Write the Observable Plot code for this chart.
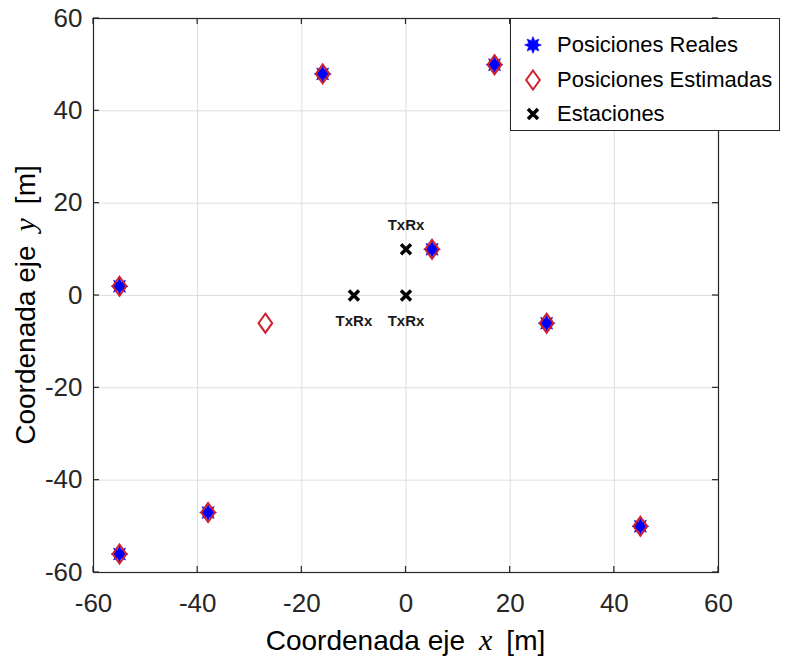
<!DOCTYPE html>
<html>
<head>
<meta charset="utf-8">
<script src="https://cdn.jsdelivr.net/npm/d3@7"></script>
<script src="https://cdn.jsdelivr.net/npm/@observablehq/plot@0.6"></script>
<style>
  body { margin: 0; background: #fff; }
  #chart { position: relative; width: 807px; height: 667px; font-family: "Liberation Sans", Arial, sans-serif; }
  #legend { position: absolute; left: 510px; top: 18px; width: 270px; height: 113px; box-sizing: border-box;
            border: 1px solid #262626; background: #fff; }
  .entry { position: absolute; left: 0; height: 30px; display: flex; align-items: center; font-size: 22px; color: #000; }
  .entry svg { width: 30px; height: 30px; margin-left: 7px; margin-right: 9px; }
</style>
</head>
<body>
<div id="chart"></div>
<script>
// Axis ticks
const xTicks = [-60, -40, -20, 0, 20, 40, 60];
const yTicks = [-60, -40, -20, 0, 20, 40, 60];

// True target positions [m]
const realX = [-55, -16, 17, 5, 27, -38, -55, 45];
const realY = [2, 48, 50, 10, -6, -47, -56, -50];

// Estimated target positions [m]
const estX = [-55, -16, 17, 5, 27, -38, -55, 45, -27];
const estY = [2, 48, 50, 10, -6, -47, -56, -50, -6];

// Stations (transmitter/receiver)
const stationX = [-10, 0, 0];
const stationY = [0, 0, 10];
const stationText = ["TxRx", "TxRx", "TxRx"];
const stationAbove = [false, false, true];

const real = realX.map((x, i) => ({x, y: realY[i]}));
const est = estX.map((x, i) => ({x, y: estY[i]}));
const stations = stationX.map((x, i) => ({x, y: stationY[i], text: stationText[i], above: stationAbove[i]}));

// Custom marker shapes
const starSymbol = {
  draw(ctx, size) {
    const R = Math.sqrt(size / Math.PI), r = R * 0.55, n = 8;
    for (let i = 0; i < 2 * n; i++) {
      const a = Math.PI * i / n - Math.PI / 2, rr = i % 2 ? r : R;
      const px = rr * Math.cos(a), py = rr * Math.sin(a);
      if (i) ctx.lineTo(px, py); else ctx.moveTo(px, py);
    }
    ctx.closePath();
  }
};
const diamondSymbol = {
  draw(ctx, size) {
    const r = Math.sqrt(size / Math.PI), w = r * 0.72;
    ctx.moveTo(0, -r); ctx.lineTo(w, 0); ctx.lineTo(0, r); ctx.lineTo(-w, 0); ctx.closePath();
  }
};
const crossSymbol = {
  draw(ctx, size) {
    const r = Math.sqrt(size / Math.PI);
    ctx.moveTo(-r, -r); ctx.lineTo(r, r); ctx.moveTo(r, -r); ctx.lineTo(-r, r);
  }
};

const BLUE = "#0000ff", RED = "#d0202c", BLACK = "#000";
const fmt = d => String(d); // plain hyphen for negatives

const plot = Plot.plot({
  width: 807,
  height: 667,
  marginLeft: 93,
  marginRight: 89,
  marginTop: 18,
  marginBottom: 95,
  style: {fontFamily: "'Liberation Sans', Arial, sans-serif", background: "white", color: "#262626"},
  x: {domain: [-60, 60], label: null},
  y: {domain: [-60, 60], label: null},
  marks: [
    Plot.gridX(xTicks, {stroke: "#dedede", strokeOpacity: 1}),
    Plot.gridY(yTicks, {stroke: "#dedede", strokeOpacity: 1}),
    Plot.axisX(xTicks, {tickSize: 0, tickPadding: 21, fontSize: 26, label: null, fill: "#262626", tickFormat: fmt}),
    Plot.axisY(yTicks, {tickSize: 0, tickPadding: 11, fontSize: 26, label: null, fill: "#262626", tickFormat: fmt}),
    Plot.frame({stroke: "#262626", strokeWidth: 1.2}),
    Plot.dot(real, {x: "x", y: "y", symbol: starSymbol, r: 8.5, fill: BLUE, stroke: BLUE, strokeWidth: 0.5}),
    Plot.dot(est, {x: "x", y: "y", symbol: diamondSymbol, r: 9.5, fill: "none", stroke: RED, strokeWidth: 2}),
    Plot.dot(stations, {x: "x", y: "y", symbol: crossSymbol, r: 5, stroke: BLACK, strokeWidth: 3.5}),
    Plot.text(stations.filter(d => d.above), {x: "x", y: "y", text: "text", dy: -24, fontSize: 15, fontWeight: "bold", fill: "#1a1a1a"}),
    Plot.text(stations.filter(d => !d.above), {x: "x", y: "y", text: "text", dy: 26, fontSize: 15, fontWeight: "bold", fill: "#1a1a1a"})
  ]
});

// Inward tick marks on all four sides, placed with the plot's scales
const sx = plot.scale("x"), sy = plot.scale("y");
const [x0, x1] = sx.range, [y0, y1] = sy.range; // y0 bottom, y1 top
const svg = d3.select(plot);
const tg = svg.append("g").attr("stroke", "#262626").attr("stroke-width", 1.2);
const T = 6;
xTicks.forEach(v => {
  const px = sx.apply(v);
  tg.append("line").attr("x1", px).attr("x2", px).attr("y1", y0).attr("y2", y0 - T);
  tg.append("line").attr("x1", px).attr("x2", px).attr("y1", y1).attr("y2", y1 + T);
});
yTicks.forEach(v => {
  const py = sy.apply(v);
  tg.append("line").attr("y1", py).attr("y2", py).attr("x1", x0).attr("x2", x0 + T);
  tg.append("line").attr("y1", py).attr("y2", py).attr("x1", x1).attr("x2", x1 - T);
});

// Axis titles with italic math variables
const LABEL_SIZE = 28;
function axisTitle(sel, v) {
  sel.append("tspan").text("Coordenada eje");
  sel.append("tspan").attr("dx", 14).attr("font-family", "'Liberation Serif', serif")
    .attr("font-style", "italic").attr("font-size", LABEL_SIZE + 2).text(v);
  sel.append("tspan").attr("dx", 14).text("[m]");
}
const xl = svg.append("text")
  .attr("x", (x0 + x1) / 2).attr("y", y0 + 78)
  .attr("text-anchor", "middle").attr("font-size", LABEL_SIZE).attr("fill", "#000");
axisTitle(xl, "x");

const yl = svg.append("text")
  .attr("transform", `translate(35,${(y0 + y1) / 2 + 10}) rotate(-90)`)
  .attr("text-anchor", "middle").attr("font-size", LABEL_SIZE).attr("fill", "#000");
axisTitle(yl, "y");

const chart = document.getElementById("chart");
chart.appendChild(plot);

// Legend box
const legendItems = [
  {label: "Posiciones Reales", symbol: starSymbol, r: 8.5, fill: BLUE, stroke: BLUE, sw: 0.5},
  {label: "Posiciones Estimadas", symbol: diamondSymbol, r: 9.5, fill: "none", stroke: RED, sw: 2},
  {label: "Estaciones", symbol: crossSymbol, r: 5, fill: "none", stroke: BLACK, sw: 3.5}
];
const legend = d3.select(chart).append("div").attr("id", "legend");
legendItems.forEach((d, i) => {
  const e = legend.append("div").attr("class", "entry").style("top", `${11 + i * 34.5}px`);
  const s = e.append("svg").attr("viewBox", "-15 -15 30 30");
  s.append("path")
    .attr("d", d3.symbol(d.symbol, Math.PI * d.r * d.r)())
    .attr("fill", d.fill).attr("stroke", d.stroke).attr("stroke-width", d.sw);
  e.append("span").text(d.label);
});
</script>
</body>
</html>
